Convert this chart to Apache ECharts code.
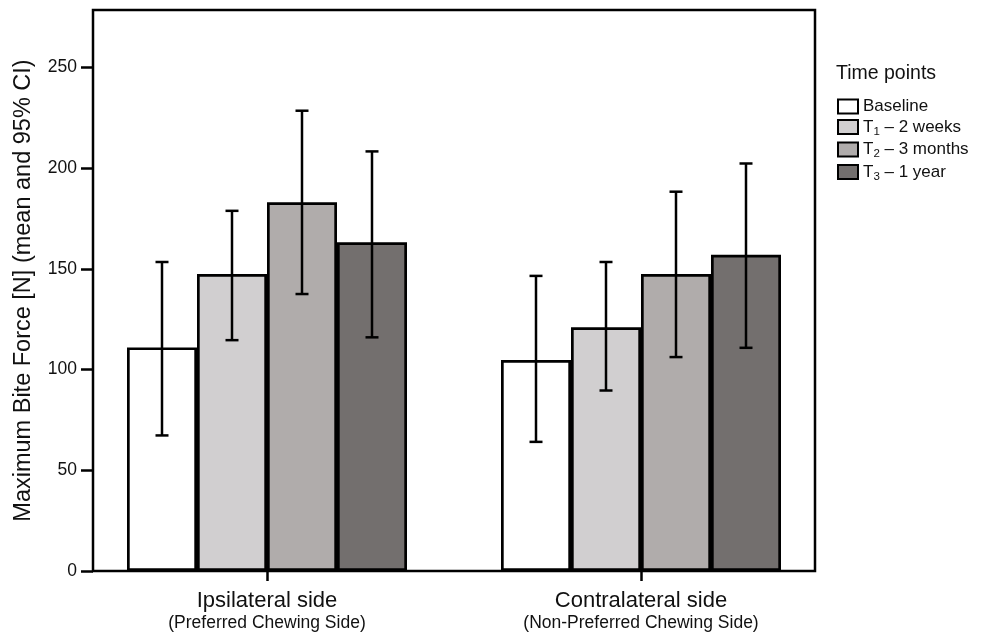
<!DOCTYPE html>
<html>
<head>
<meta charset="utf-8">
<script src="https://cdn.jsdelivr.net/npm/echarts@6/dist/echarts.min.js"></script>
<style>html,body{margin:0;padding:0;background:#fff;}#c{width:984px;height:636px;}</style>
</head>
<body>
<div id="c"></div>
<script>
const categories = ['Ipsilateral side', 'Contralateral side'];
const subLabels = ['(Preferred Chewing Side)', '(Non-Preferred Chewing Side)'];
const seriesNames = ['Baseline', 'T1 – 2 weeks', 'T2 – 3 months', 'T3 – 1 year'];
const baselineMean = [111.0, 104.7];
const baselineLow = [67.3, 64.1];
const baselineHigh = [153.4, 146.5];
const t1Mean = [147.4, 121.0];
const t1Low = [114.6, 89.6];
const t1High = [178.8, 153.4];
const t2Mean = [183.0, 147.4];
const t2Low = [137.5, 106.2];
const t2High = [228.5, 188.3];
const t3Mean = [163.2, 157.0];
const t3Low = [116.0, 110.8];
const t3High = [208.3, 202.3];
const yTicks = [0, 50, 100, 150, 200, 250];

const means = [baselineMean, t1Mean, t2Mean, t3Mean];
const lows = [baselineLow, t1Low, t2Low, t3Low];
const highs = [baselineHigh, t1High, t2High, t3High];
const colors = ['#ffffff', '#d1cfd0', '#b0acab', '#736f6e'];
const BAR_W = 70;
const FONT = 'Liberation Sans, Arial, sans-serif';
const TXT = '#111';

const series = [];
seriesNames.forEach((name, i) => {
  series.push({
    name: name, type: 'bar', xAxisIndex: 0, yAxisIndex: 0,
    data: means[i], barWidth: BAR_W, barGap: '0%',
    itemStyle: { color: colors[i], borderColor: '#000', borderWidth: 2.7 },
    z: 2
  });
});
seriesNames.forEach((name, i) => {
  series.push({
    type: 'custom', xAxisIndex: 0, yAxisIndex: 0, z: 5,
    data: categories.map((c, k) => [k, lows[i][k], highs[i][k]]),
    renderItem: function (params, api) {
      const k = api.value(0);
      const pHi = api.coord([k, api.value(2)]);
      const pLo = api.coord([k, api.value(1)]);
      const x = pHi[0] + (i - 1.5) * BAR_W;
      const st = { stroke: '#000', lineWidth: 2.5 };
      return { type: 'group', children: [
        { type: 'line', shape: { x1: x, y1: pHi[1], x2: x, y2: pLo[1] }, style: st },
        { type: 'line', shape: { x1: x - 6.5, y1: pHi[1], x2: x + 6.5, y2: pHi[1] }, style: st },
        { type: 'line', shape: { x1: x - 6.5, y1: pLo[1], x2: x + 6.5, y2: pLo[1] }, style: st }
      ]};
    },
    silent: true, tooltip: { show: false }
  });
});

const option = {
  animation: false,
  backgroundColor: '#fff',
  textStyle: { fontFamily: FONT, color: TXT },
  title: { text: 'Time points', left: 836, top: 64, padding: 0,
    textStyle: { fontFamily: FONT, fontSize: 19.5, fontWeight: 'normal', color: TXT } },
  legend: {
    data: seriesNames, orient: 'vertical', left: 837, top: 98, padding: 0,
    itemWidth: 20, itemHeight: 14, itemGap: 1.5, icon: 'rect',
    formatter: function (n) {
      const m = n.match(/^T(\d)(.*)$/);
      if (m) return '{n|T}{s|' + m[1] + '}{n|' + m[2] + '}';
      return '{n|' + n + '}';
    },
    textStyle: { fontFamily: FONT, color: TXT,
      rich: {
        n: { fontSize: 17, lineHeight: 18, fontFamily: FONT, color: TXT },
        s: { fontSize: 11.5, lineHeight: 18, fontFamily: FONT, color: TXT, padding: [9, 0, 0, 0] }
      } }
  },
  grid: [
    { left: 80, right: 156, top: 10, bottom: 65 },
    { left: 93, right: 169, top: 10, bottom: 65, show: true, borderColor: '#000', borderWidth: 2.5, backgroundColor: 'transparent' }
  ],
  xAxis: [
    { type: 'category', gridIndex: 0, data: categories,
      axisLine: { show: false },
      axisTick: { show: true, alignWithLabel: true, length: 10, lineStyle: { color: '#000', width: 2.5 } },
      axisLabel: { margin: 17, interval: 0,
        formatter: function (v, idx) { return '{a|' + v + '}\n{b|' + subLabels[idx] + '}'; },
        rich: {
          a: { fontSize: 22, lineHeight: 25, fontFamily: FONT, color: TXT },
          b: { fontSize: 17.5, lineHeight: 21, fontFamily: FONT, color: TXT }
        } } },
    { type: 'value', gridIndex: 1, show: false }
  ],
  yAxis: [
    { type: 'value', gridIndex: 0, min: 0, max: 278.5, interval: 50, offset: -13,
      name: 'Maximum Bite Force [N] (mean and 95% CI)', nameLocation: 'middle', nameGap: 57,
      nameTextStyle: { fontSize: 23.5, fontFamily: FONT, color: TXT },
      axisLine: { show: false },
      axisTick: { show: true, length: 12, lineStyle: { color: '#000', width: 2.5 },
        customValues: yTicks },
      axisLabel: { fontSize: 17.5, fontFamily: FONT, color: TXT, margin: 16, customValues: yTicks,
        formatter: function (v) { return yTicks.indexOf(v) >= 0 ? String(v) : ''; } },
      splitLine: { show: false } },
    { type: 'value', gridIndex: 1, show: false }
  ],
  series: series
};
const chart = echarts.init(document.getElementById('c'), null, { renderer: 'canvas' });
chart.setOption(option);
</script>
</body>
</html>
